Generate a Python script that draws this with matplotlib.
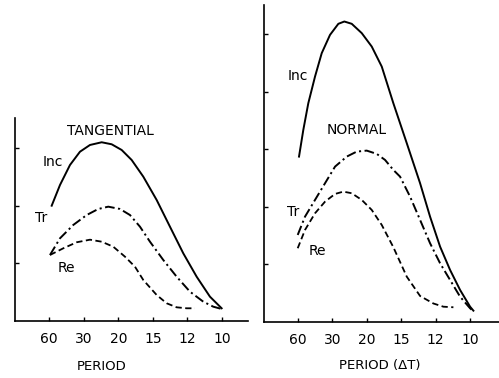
import matplotlib
matplotlib.use("Agg")
import matplotlib.pyplot as plt

plt.rcParams['font.family'] = ['DejaVu Sans']
plt.rcParams['lines.scale_dashes'] = False

# x axis is frequency, ticks labelled by period
freq_ticks = [1, 2, 3, 4, 5, 6]
period_labels = ['60', '30', '20', '15', '12', '10']

# tangential panel
tan_inc_x = [1.075, 1.315, 1.604, 1.893, 2.182, 2.520, 2.809, 3.098, 3.387, 3.723,
             4.110, 4.494, 4.879, 5.266, 5.650, 5.988]
tan_inc_y = [2.005, 2.365, 2.713, 2.944, 3.061, 3.108, 3.073, 2.974, 2.800, 2.510,
             2.104, 1.640, 1.177, 0.770, 0.423, 0.221]
tan_tr_x = [1.026, 1.315, 1.699, 2.087, 2.422, 2.711, 3.049, 3.338, 3.627, 3.916,
            4.301, 4.688, 5.072, 5.457, 5.746, 5.988]
tan_tr_y = [1.148, 1.438, 1.670, 1.843, 1.948, 1.988, 1.948, 1.843, 1.640, 1.379,
            1.061, 0.770, 0.510, 0.336, 0.249, 0.209]
tan_re_x = [1.026, 1.410, 1.798, 2.182, 2.520, 2.855, 3.194, 3.483, 3.723, 4.110,
            4.399, 4.688, 4.977, 5.217]
tan_re_y = [1.148, 1.264, 1.369, 1.414, 1.379, 1.292, 1.118, 0.944, 0.713, 0.452,
            0.308, 0.238, 0.221, 0.221]

# normal panel
nor_inc_x = [1.029, 1.154, 1.299, 1.494, 1.689, 1.930, 2.172, 2.346, 2.561, 2.852,
             3.142, 3.433, 3.770, 4.160, 4.547, 4.837, 5.128, 5.419, 5.709, 6.000, 6.096]
nor_inc_y = [2.875, 3.339, 3.803, 4.266, 4.673, 4.991, 5.183, 5.223, 5.183, 5.021,
             4.788, 4.440, 3.803, 3.108, 2.412, 1.831, 1.310, 0.904, 0.557, 0.266, 0.197]
nor_tr_x = [0.991, 1.203, 1.494, 1.785, 2.076, 2.416, 2.706, 2.997, 3.288, 3.529,
            3.770, 3.965, 4.256, 4.547, 4.837, 5.128, 5.419, 5.709, 6.000, 6.078]
nor_tr_y = [1.513, 1.831, 2.122, 2.412, 2.701, 2.875, 2.962, 2.979, 2.922, 2.817,
            2.643, 2.527, 2.179, 1.774, 1.369, 1.021, 0.730, 0.440, 0.238, 0.197]
nor_re_x = [0.991, 1.203, 1.494, 1.785, 2.076, 2.317, 2.561, 2.852, 3.142, 3.433,
            3.770, 4.160, 4.547, 4.933, 5.224, 5.515]
nor_re_y = [1.282, 1.600, 1.890, 2.092, 2.226, 2.266, 2.238, 2.122, 1.948, 1.687,
            1.300, 0.788, 0.452, 0.322, 0.266, 0.256]

W, H = 499, 378
fig = plt.figure(figsize=(W / 100, H / 100), dpi=100)

ax1 = fig.add_axes([14.5 / W, (H - 321) / H, 233.5 / W, 203 / H])
ax2 = fig.add_axes([263.6 / W, (H - 322) / H, 235.4 / W, 317 / H])

tr_style = (0, (7, 2.5, 1.5, 2.5))
re_style = (0, (4.5, 2.5))

for ax in (ax1, ax2):
    for s in ('top', 'right'):
        ax.spines[s].set_visible(False)
    for s in ('left', 'bottom'):
        ax.spines[s].set_linewidth(1.2)
    ax.set_xticks(freq_ticks)
    ax.set_xticklabels(period_labels, fontsize=10)
    ax.tick_params(direction='in', length=3, width=1, pad=8)

ax1.plot(tan_inc_x, tan_inc_y, color='black', lw=1.4, solid_joinstyle='round')
ax1.plot(tan_tr_x, tan_tr_y, color='black', lw=1.4, linestyle=tr_style)
ax1.plot(tan_re_x, tan_re_y, color='black', lw=1.3, linestyle=re_style)
ax1.set_xlim(0, 6.75)
ax1.set_ylim(0, 3.53)
ax1.set_yticks([1, 2, 3])
ax1.set_yticklabels([])
ax1.text(2.76, 3.31, 'TANGENTIAL', ha='center', va='center', fontsize=10)
ax1.text(1.10, 2.76, 'Inc', ha='center', va='center', fontsize=10)
ax1.text(0.78, 1.79, 'Tr', ha='center', va='center', fontsize=10)
ax1.text(1.49, 0.93, 'Re', ha='center', va='center', fontsize=10)

ax2.plot(nor_inc_x, nor_inc_y, color='black', lw=1.4, solid_joinstyle='round')
ax2.plot(nor_tr_x, nor_tr_y, color='black', lw=1.4, linestyle=tr_style)
ax2.plot(nor_re_x, nor_re_y, color='black', lw=1.3, linestyle=re_style)
ax2.set_xlim(0, 6.84)
ax2.set_ylim(0, 5.51)
ax2.set_yticks([1, 2, 3, 4, 5])
ax2.set_yticklabels([])
ax2.text(2.70, 3.33, 'NORMAL', ha='center', va='center', fontsize=10)
ax2.text(1.00, 4.27, 'Inc', ha='center', va='center', fontsize=10)
ax2.text(0.86, 1.92, 'Tr', ha='center', va='center', fontsize=10)
ax2.text(1.57, 1.24, 'Re', ha='center', va='center', fontsize=10)

fig.text(101.5 / W, 1 - 367 / H, 'PERIOD', ha='center', va='center', fontsize=9.5)
fig.text(380 / W, 1 - 365 / H, 'PERIOD (ΔT)', ha='center', va='center', fontsize=9.5)

fig.savefig('out.png', dpi=100)
